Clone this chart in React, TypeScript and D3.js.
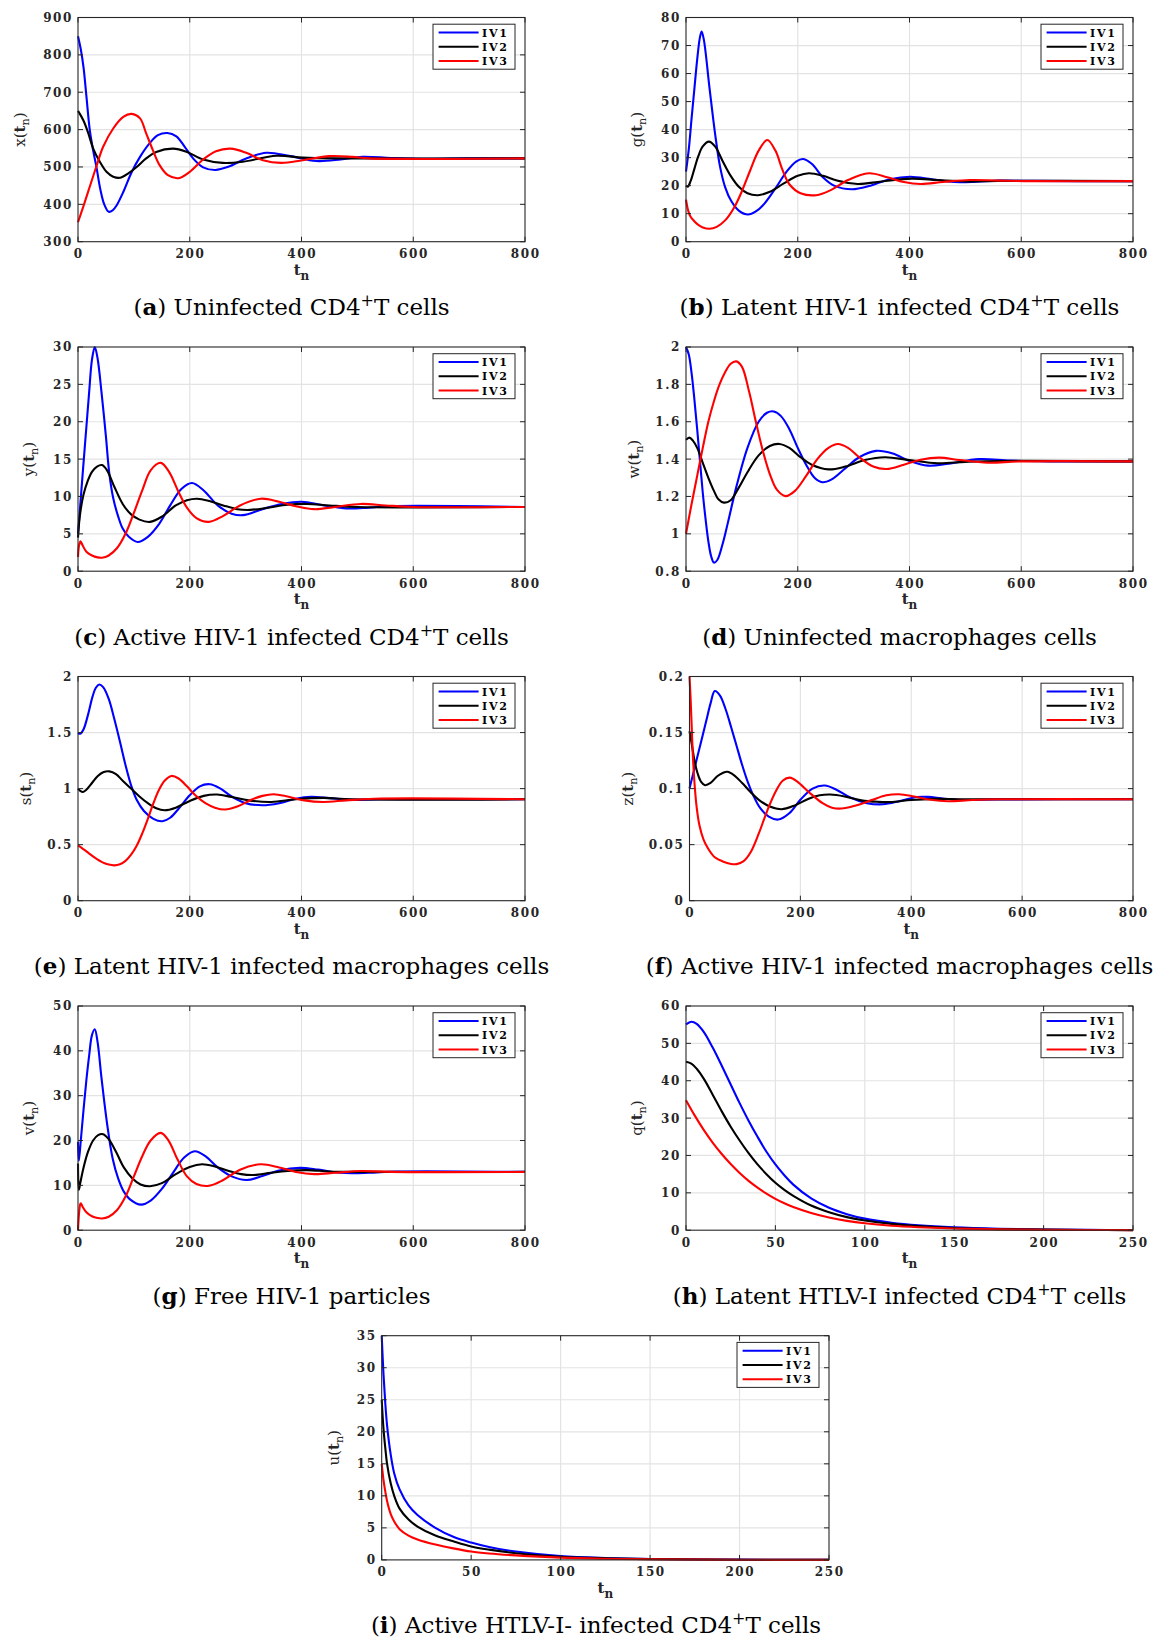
import React from 'react';
import * as d3 from 'd3';

type Pt = [number, number];

// ---------- data ----------
// (a) x(t_n)
const aIV1: Pt[] = [[0,850],[5,815],[10,765],[15,690],[21,600],[27,545],[33,500],[40,440],[47,400],[55,380],[62,384],[69,397],[81,433],[96,486],[111,527],[128,563],[143,585],[160,591],[176,582],[191,554],[206,523],[224,499],[246,492],[270,501],[300,522],[337,538],[380,529],[426,516],[470,520],[509,527],[560,524],[620,522],[700,523],[800,523]];
const aIV2: Pt[] = [[0,650],[9.5,625],[18.5,590],[27,550],[39,514],[51,487],[63,474],[75,471],[90,483],[105,500],[122,523],[140,540],[170,549],[194,541],[224,520],[259,511],[295,514],[355,530],[402,525],[462,523],[800,523]];
const aIV3: Pt[] = [[0,352],[9.5,394],[21,447],[33,502],[45,554],[63,603],[81,634],[96,642],[111,630],[122,590],[134,545],[146,505],[161,478],[180,470],[200,487],[224,520],[247,542],[273,549],[301,538],[331,518],[364,511],[402,518],[450,529],[491,527],[521,523],[800,523]];
// (b) g(t_n)
const bIV1: Pt[] = [[0,25],[5,33],[10,44],[15,54.5],[20,65],[25,73],[28,75],[32,72],[42,55],[52,38.6],[61,26.7],[70,19.5],[81,14.5],[95,11],[111,9.7],[125,10.8],[140,13.5],[160,19],[180,25],[197,28.6],[210,29.5],[225,27.8],[245,23],[265,20],[297,18.7],[330,20],[365,22.3],[401,23.2],[440,22.3],[480,21.3],[520,21.4],[560,21.8],[620,21.7],[700,21.6],[800,21.6]];
const bIV2: Pt[] = [[0,20],[3,19.6],[8,21.5],[15,26],[22,30.5],[30,34],[41,35.7],[52,34],[65,29],[80,23.5],[95,19.5],[110,17.3],[129,16.6],[150,17.8],[175,20.8],[200,23.5],[220,24.4],[245,23.5],[270,21.8],[307,20.6],[350,21.5],[404,22.5],[450,22],[500,21.5],[560,21.7],[800,21.6]];
const bIV3: Pt[] = [[0,15],[4,11],[8,9],[14,7.5],[22,6],[30,5.1],[42,4.6],[55,5.3],[70,7.6],[87,12.5],[100,18],[115,25.5],[130,32.5],[145.5,36.3],[160,32.5],[172,26],[185,20.5],[205,17.3],[233,16.6],[260,18.5],[290,22],[327,24.4],[360,23],[390,21.3],[420,20.6],[460,21.3],[508,22],[560,21.8],[620,21.6],[800,21.6]];
// (c) y(t_n)
const cIV1: Pt[] = [[0,5],[5,9.8],[10,14.6],[15,19.3],[20,24],[25,28.3],[30,30],[35,28.5],[42,24],[50,18],[56,13.1],[63,9.8],[72,7.3],[80,5.7],[91,4.6],[107,3.9],[125,4.6],[145,6.3],[165,8.8],[185,11],[204,11.8],[225,10.8],[250,8.8],[275,7.7],[295,7.5],[330,8.3],[365,9],[400,9.3],[440,8.8],[480,8.4],[520,8.5],[560,8.7],[800,8.6]];
const cIV2: Pt[] = [[0,4.5],[2,6.5],[5,8.3],[10,10.3],[17,12],[25,13.3],[34,14],[43,14.2],[52,13.5],[65,11.3],[80,9],[95,7.6],[110,6.9],[129,6.6],[150,7.3],[175,8.8],[195,9.5],[213,9.7],[235,9.4],[260,8.8],[285,8.3],[308,8.2],[340,8.5],[375,8.9],[410,9],[450,8.8],[500,8.6],[800,8.6]];
const cIV3: Pt[] = [[0,1.9],[2,3.5],[4.5,4],[8,3.5],[15,2.6],[25,2.1],[35,1.85],[43,1.8],[55,2.1],[70,3.1],[85,5],[100,7.8],[115,10.8],[130,13.5],[148,14.5],[163,13.3],[180,10.6],[195,8.5],[212,7.1],[234,6.6],[260,7.4],[290,8.8],[327,9.7],[360,9.3],[390,8.7],[423,8.3],[460,8.6],[506,9],[550,8.8],[600,8.6],[800,8.6]];
// (d) w(t_n)
const dIV1: Pt[] = [[0,2.0],[5,1.96],[10,1.86],[15,1.72],[20,1.56],[25,1.39],[30,1.22],[35,1.08],[40,0.96],[45,0.88],[50,0.846],[56,0.86],[65,0.94],[75,1.06],[90,1.25],[110,1.46],[130,1.6],[145,1.648],[157,1.655],[170,1.63],[185,1.56],[200,1.46],[215,1.37],[230,1.3],[244,1.276],[260,1.29],[285,1.35],[310,1.41],[340,1.444],[370,1.43],[400,1.39],[433,1.365],[470,1.375],[524,1.4],[580,1.392],[650,1.388],[800,1.388]];
const dIV2: Pt[] = [[0,1.503],[6,1.515],[12,1.5],[20,1.46],[30,1.38],[40,1.3],[50,1.23],[58,1.185],[68,1.167],[80,1.18],[95,1.25],[110,1.33],[130,1.42],[150,1.47],[167,1.481],[185,1.46],[205,1.41],[225,1.37],[255,1.345],[285,1.36],[320,1.395],[356,1.41],[400,1.395],[450,1.378],[500,1.385],[560,1.39],[800,1.388]];
const dIV3: Pt[] = [[0,1.0],[10,1.16],[20,1.31],[30,1.46],[40,1.6],[50,1.71],[60,1.8],[70,1.865],[80,1.91],[90,1.923],[100,1.895],[113,1.76],[125,1.6],[137,1.45],[150,1.32],[163,1.235],[178,1.202],[195,1.23],[215,1.31],[235,1.4],[255,1.46],[272,1.481],[290,1.46],[310,1.41],[335,1.36],[359,1.347],[390,1.37],[420,1.397],[453,1.408],[490,1.395],[540,1.381],[600,1.388],[800,1.388]];
// (e) s(t_n)
const eIV1: Pt[] = [[0,1.496],[4,1.49],[10,1.53],[18,1.66],[26,1.82],[32,1.9],[38,1.929],[45,1.905],[55,1.8],[65,1.62],[75,1.42],[85,1.21],[95,1.03],[105,0.9],[118,0.8],[135,0.73],[151,0.709],[165,0.74],[180,0.82],[200,0.94],[218,1.02],[236,1.039],[255,1.0],[275,0.93],[300,0.87],[330,0.852],[360,0.87],[390,0.91],[417,0.926],[450,0.915],[490,0.9],[540,0.905],[800,0.905]];
const eIV2: Pt[] = [[0,1.0],[4,0.98],[9,0.97],[15,0.99],[25,1.05],[35,1.11],[45,1.145],[56,1.154],[68,1.13],[80,1.07],[95,1.0],[110,0.93],[125,0.87],[140,0.825],[155,0.807],[175,0.83],[200,0.89],[225,0.935],[249,0.947],[275,0.925],[305,0.895],[346,0.881],[390,0.905],[439,0.917],[490,0.905],[800,0.905]];
const eIV3: Pt[] = [[0,0.493],[15,0.44],[30,0.385],[45,0.34],[55,0.322],[65,0.315],[75,0.325],[85,0.355],[95,0.41],[105,0.49],[115,0.6],[125,0.73],[135,0.87],[145,0.99],[155,1.07],[167,1.113],[180,1.09],[195,1.02],[210,0.94],[228,0.87],[245,0.83],[263,0.813],[285,0.84],[310,0.9],[330,0.935],[350,0.95],[375,0.93],[405,0.895],[439,0.881],[480,0.895],[530,0.91],[800,0.905]];
// (f) z(t_n)
const fIV1: Pt[] = [[0,0.1],[10,0.12],[20,0.14],[30,0.16],[38,0.176],[45.6,0.187],[55,0.183],[65,0.171],[75,0.155],[85,0.138],[95,0.121],[105,0.106],[115,0.094],[127,0.083],[143,0.075],[160,0.0724],[180,0.078],[200,0.09],[222,0.1],[244,0.1027],[265,0.099],[290,0.092],[320,0.087],[349,0.086],[380,0.089],[410,0.0925],[430,0.0926],[460,0.091],[500,0.0898],[550,0.0903],[800,0.0905]];
const fIV2: Pt[] = [[0,0.151],[4,0.14],[9,0.125],[15,0.113],[21,0.106],[28,0.103],[38,0.105],[50,0.111],[60,0.114],[68.5,0.115],[80,0.112],[95,0.105],[110,0.097],[125,0.09],[145,0.084],[166,0.0816],[190,0.085],[215,0.091],[235,0.094],[254,0.0947],[280,0.093],[310,0.0895],[340,0.0882],[362,0.088],[400,0.0898],[440,0.0908],[500,0.0905],[800,0.0905]];
const fIV3: Pt[] = [[0,0.2],[2,0.18],[4,0.155],[6,0.13],[9,0.105],[13,0.083],[18,0.067],[25,0.055],[33,0.047],[45,0.039],[60,0.035],[75,0.0328],[85,0.0326],[97,0.035],[110,0.043],[125,0.06],[140,0.08],[155,0.097],[168,0.107],[181,0.1098],[195,0.106],[215,0.097],[240,0.087],[257,0.083],[274,0.0822],[300,0.085],[330,0.09],[355,0.094],[378,0.095],[405,0.093],[435,0.09],[466,0.0887],[510,0.0898],[560,0.0905],[800,0.0905]];
// (g) v(t_n)
const gIV1: Pt[] = [[0,19.7],[1.5,15.5],[5,20],[10,27],[15,33.5],[20,39],[25,43.5],[30,44.8],[35,42],[42,34],[52,23.8],[62,16],[72,11.5],[82,8.6],[92,7],[113,5.7],[130,6.6],[150,9.2],[170,12.8],[190,16.2],[209,17.6],[228,16.5],[250,14],[275,12],[302,11.2],[330,12.1],[360,13.3],[397,13.9],[430,13.5],[470,12.8],[520,12.8],[570,13.1],[800,13]];
const gIV2: Pt[] = [[0,14.9],[1.5,9],[4,10.5],[10,14],[18,17.5],[27,20],[36,21.2],[45,21.4],[55,20.3],[68,17.5],[82,14],[97,11.6],[112,10.2],[129,9.8],[150,10.5],[175,12.5],[200,14.1],[222,14.7],[245,14.2],[270,13.2],[292,12.5],[314,12.3],[345,12.8],[375,13.2],[410,13.4],[450,13.1],[500,13],[800,13]];
const gIV3: Pt[] = [[0,0],[2,4],[4,5.8],[5,6],[8,5.3],[15,4],[25,3.1],[35,2.7],[43,2.6],[55,3],[70,4.5],[85,7.5],[100,12],[115,16.5],[130,20],[148,21.7],[162,20],[178,15.8],[195,12],[212,10.3],[234.5,9.9],[260,11.2],[290,13.5],[327,14.7],[360,14],[390,13],[423,12.5],[460,12.8],[506,13.2],[560,13],[800,13]];
// (h) q(t_n)
const hIV1: Pt[] = [[0,55.1],[3,55.8],[6,55.2],[10,53],[15,48.8],[20,44],[25,39],[30,34],[35,29.3],[40,25],[45,21],[50,17.6],[55,14.7],[60,12.2],[70,8.5],[80,6],[90,4.3],[100,3.1],[115,2],[130,1.3],[150,0.75],[175,0.38],[200,0.18],[225,0.09],[250,0.05]];
const hIV2: Pt[] = [[0,45.1],[3,44.6],[6,43.2],[10,40.5],[15,36.2],[20,31.8],[25,27.7],[30,24],[35,20.6],[40,17.6],[45,15],[50,12.7],[55,10.8],[60,9.2],[70,6.6],[80,4.8],[90,3.5],[100,2.6],[115,1.7],[130,1.1],[150,0.6],[175,0.3],[200,0.15],[225,0.07],[250,0.03]];
const hIV3: Pt[] = [[0,34.8],[5,30.6],[10,26.8],[15,23.4],[20,20.4],[25,17.7],[30,15.3],[35,13.2],[40,11.4],[45,9.8],[50,8.4],[55,7.2],[60,6.2],[70,4.6],[80,3.4],[90,2.5],[100,1.85],[115,1.2],[130,0.8],[150,0.45],[175,0.22],[200,0.1],[225,0.05],[250,0.02]];
// (i) u(t_n)
const iIV1: Pt[] = [[0,35],[1,29],[2,24.5],[3,21],[5,16.5],[7,13.5],[10,11],[15,8.5],[20,7],[30,5],[40,3.6],[50,2.7],[60,2],[75,1.3],[100,0.6],[125,0.3],[150,0.15],[200,0.04],[250,0.01]];
const iIV2: Pt[] = [[0,25],[1,20.5],[2,17.5],[3,15],[5,12],[7,10],[10,8],[15,6.3],[20,5.2],[30,3.8],[40,2.9],[50,2.1],[60,1.6],[75,1.05],[100,0.5],[125,0.25],[150,0.12],[200,0.03],[250,0.01]];
const iIV3: Pt[] = [[0,15],[1,12.5],[2,10.7],[3,9.2],[5,7.2],[7,6],[10,4.8],[15,3.8],[20,3.2],[30,2.4],[40,1.8],[50,1.3],[60,1.0],[75,0.7],[100,0.35],[125,0.18],[150,0.09],[200,0.02],[250,0.005]];

// ticks
const xTicks800 = [0, 200, 400, 600, 800];
const xTicks250 = [0, 50, 100, 150, 200, 250];
const aYTicks = [300, 400, 500, 600, 700, 800, 900];
const bYTicks = [0, 10, 20, 30, 40, 50, 60, 70, 80];
const cYTicks = [0, 5, 10, 15, 20, 25, 30];
const dYTicks = [0.8, 1, 1.2, 1.4, 1.6, 1.8, 2];
const eYTicks = [0, 0.5, 1, 1.5, 2];
const fYTicks = [0, 0.05, 0.1, 0.15, 0.2];
const gYTicks = [0, 10, 20, 30, 40, 50];
const hYTicks = [0, 10, 20, 30, 40, 50, 60];
const iYTicks = [0, 5, 10, 15, 20, 25, 30, 35];

const seriesNames = ['IV1', 'IV2', 'IV3'];
const seriesColors = ['#0000ff', '#000000', '#ff0000'];

const yLabels = ['x', 'g', 'y', 'w', 's', 'z', 'v', 'q', 'u'];
const letters = ['a', 'b', 'c', 'd', 'e', 'f', 'g', 'h', 'i'];
const captions = [
  'Uninfected CD4^T cells',
  'Latent HIV-1 infected CD4^T cells',
  'Active HIV-1 infected CD4^T cells',
  'Uninfected macrophages cells',
  'Latent HIV-1 infected macrophages cells',
  'Active HIV-1 infected macrophages cells',
  'Free HIV-1 particles',
  'Latent HTLV-I infected CD4^T cells',
  'Active HTLV-I- infected CD4^T cells',
];

// ---------- layout ----------
const W = 1157;
const H = 1641;
const PH = 224.2;
const ROWS = [17.5, 347, 676.5, 1006, 1335.7];

interface PanelCfg {
  idx: number;
  left: number;
  right: number;
  top: number;
  xDomain: [number, number];
  yDomain: [number, number];
  xTicks: number[];
  yTicks: number[];
  series: Pt[][];
  ylabOff: number;
  capX: number;
}

const panels: PanelCfg[] = [
  { idx: 0, left: 78, right: 525, top: ROWS[0], xDomain: [0, 800], yDomain: [300, 900], xTicks: xTicks800, yTicks: aYTicks, series: [aIV1, aIV2, aIV3], ylabOff: 53, capX: 291.5 },
  { idx: 1, left: 686, right: 1133, top: ROWS[0], xDomain: [0, 800], yDomain: [0, 80], xTicks: xTicks800, yTicks: bYTicks, series: [bIV1, bIV2, bIV3], ylabOff: 44, capX: 899.5 },
  { idx: 2, left: 78, right: 525, top: ROWS[1], xDomain: [0, 800], yDomain: [0, 30], xTicks: xTicks800, yTicks: cYTicks, series: [cIV1, cIV2, cIV3], ylabOff: 44, capX: 291.5 },
  { idx: 3, left: 686, right: 1133, top: ROWS[1], xDomain: [0, 800], yDomain: [0.8, 2], xTicks: xTicks800, yTicks: dYTicks, series: [dIV1, dIV2, dIV3], ylabOff: 47, capX: 899.5 },
  { idx: 4, left: 78, right: 525, top: ROWS[2], xDomain: [0, 800], yDomain: [0, 2], xTicks: xTicks800, yTicks: eYTicks, series: [eIV1, eIV2, eIV3], ylabOff: 47, capX: 291.5 },
  { idx: 5, left: 689.5, right: 1133, top: ROWS[2], xDomain: [0, 800], yDomain: [0, 0.2], xTicks: xTicks800, yTicks: fYTicks, series: [fIV1, fIV2, fIV3], ylabOff: 57, capX: 899.5 },
  { idx: 6, left: 78, right: 525, top: ROWS[3], xDomain: [0, 800], yDomain: [0, 50], xTicks: xTicks800, yTicks: gYTicks, series: [gIV1, gIV2, gIV3], ylabOff: 44, capX: 291.5 },
  { idx: 7, left: 686, right: 1133, top: ROWS[3], xDomain: [0, 250], yDomain: [0, 60], xTicks: xTicks250, yTicks: hYTicks, series: [hIV1, hIV2, hIV3], ylabOff: 44, capX: 899.5 },
  { idx: 8, left: 381.7, right: 829, top: ROWS[4], xDomain: [0, 250], yDomain: [0, 35], xTicks: xTicks250, yTicks: iYTicks, series: [iIV1, iIV2, iIV3], ylabOff: 43, capX: 596 },
];

const AX = '#262626';
const GRID = '#e3e3e3';
const TICKFONT = "'DejaVu Serif', serif";
const fmt = d3.format('~g');

function Caption({ x, y, letter, text }: { x: number; y: number; letter: string; text: string }) {
  const parts = text.split('^');
  return (
    <text x={x} y={y} textAnchor="middle" fontFamily="'DejaVu Serif', serif" fontSize={23} fill="#000">
      (<tspan fontWeight="bold">{letter}</tspan>) {parts[0]}
      {parts.length > 1 && (
        <>
          <tspan dy={-9} fontSize={16}>+</tspan>
          <tspan dy={9}>{parts[1]}</tspan>
        </>
      )}
    </text>
  );
}

function Panel({ cfg }: { cfg: PanelCfg }) {
  const { left, right, top, xDomain, yDomain, xTicks, yTicks, series, ylabOff, capX, idx } = cfg;
  const bottom = top + PH;
  const x = d3.scaleLinear().domain(xDomain).range([left, right]);
  const y = d3.scaleLinear().domain(yDomain).range([bottom, top]);
  const line = d3
    .line<Pt>()
    .x((d) => x(d[0]))
    .y((d) => y(d[1]))
    .curve(d3.curveCatmullRom.alpha(0.5));
  const tl = 5;
  const lgW = 82;
  const lgH = 45;
  const lgX = right - 10 - lgW;
  const lgY = top + 6.7;
  const cx = (left + right) / 2;
  return (
    <g>
      {xTicks.slice(1, -1).map((t) => (
        <line key={'gx' + t} x1={x(t)} x2={x(t)} y1={top} y2={bottom} stroke={GRID} strokeWidth={1.2} />
      ))}
      {yTicks.slice(1, -1).map((t) => (
        <line key={'gy' + t} x1={left} x2={right} y1={y(t)} y2={y(t)} stroke={GRID} strokeWidth={1.2} />
      ))}
      {series.map((s, i) => (
        <path key={'s' + i} d={line(s) || ''} fill="none" stroke={seriesColors[i]} strokeWidth={2.1} strokeLinejoin="round" />
      ))}
      <rect x={left} y={top} width={right - left} height={PH} fill="none" stroke={AX} strokeWidth={1.1} />
      {xTicks.map((t) => (
        <g key={'tx' + t}>
          <line x1={x(t)} x2={x(t)} y1={bottom} y2={bottom - tl} stroke={AX} strokeWidth={1} />
          <line x1={x(t)} x2={x(t)} y1={top} y2={top + tl} stroke={AX} strokeWidth={1} />
          <text x={x(t) + 0.8} y={bottom + 16.5} textAnchor="middle" fontFamily={TICKFONT} fontWeight="bold" fontSize={12} letterSpacing={1.6} fill={AX}>
            {fmt(t)}
          </text>
        </g>
      ))}
      {yTicks.map((t) => (
        <g key={'ty' + t}>
          <line x1={left} x2={left + tl} y1={y(t)} y2={y(t)} stroke={AX} strokeWidth={1} />
          <line x1={right} x2={right - tl} y1={y(t)} y2={y(t)} stroke={AX} strokeWidth={1} />
          <text x={left - 5} y={y(t) + 4.4} textAnchor="end" fontFamily={TICKFONT} fontWeight="bold" fontSize={12} letterSpacing={1.6} fill={AX}>
            {fmt(t)}
          </text>
        </g>
      ))}
      <text x={cx} y={bottom + 33} textAnchor="middle" fontFamily={TICKFONT} fontWeight="bold" fontSize={15} fill={AX}>
        t<tspan dy={5} fontSize={12}>n</tspan>
      </text>
      <text
        transform={`translate(${left - ylabOff},${top + PH / 2}) rotate(-90)`}
        textAnchor="middle"
        fontFamily={TICKFONT}
        fontSize={15}
        fill={AX}
      >
        {yLabels[idx]}(<tspan fontWeight="bold">t</tspan>
        <tspan dy={4} fontSize={11}>n</tspan>
        <tspan dy={-4}>)</tspan>
      </text>
      <g transform={`translate(${lgX},${lgY})`}>
        <rect x={0} y={0} width={lgW} height={lgH} fill="#fff" stroke={AX} strokeWidth={1} />
        {seriesNames.map((n, i) => (
          <g key={n} transform={`translate(0,${8.3 + i * 14.3})`}>
            <line x1={5.6} x2={45.6} y1={0} y2={0} stroke={seriesColors[i]} strokeWidth={2} />
            <text x={49} y={4} fontFamily={TICKFONT} fontWeight="bold" fontSize={11} letterSpacing={1.8} fill="#000">
              {n}
            </text>
          </g>
        ))}
      </g>
      <Caption x={capX} y={top + 297.5} letter={letters[idx]} text={captions[idx]} />
    </g>
  );
}

export default function App() {
  return (
    <svg
      width={W}
      height={H}
      viewBox={`0 0 ${W} ${H}`}
      style={{ position: 'absolute', left: 0, top: 0, background: '#fff' }}
    >
      <rect x={0} y={0} width={W} height={H} fill="#fff" />
      {panels.map((p) => (
        <Panel key={p.idx} cfg={p} />
      ))}
    </svg>
  );
}
